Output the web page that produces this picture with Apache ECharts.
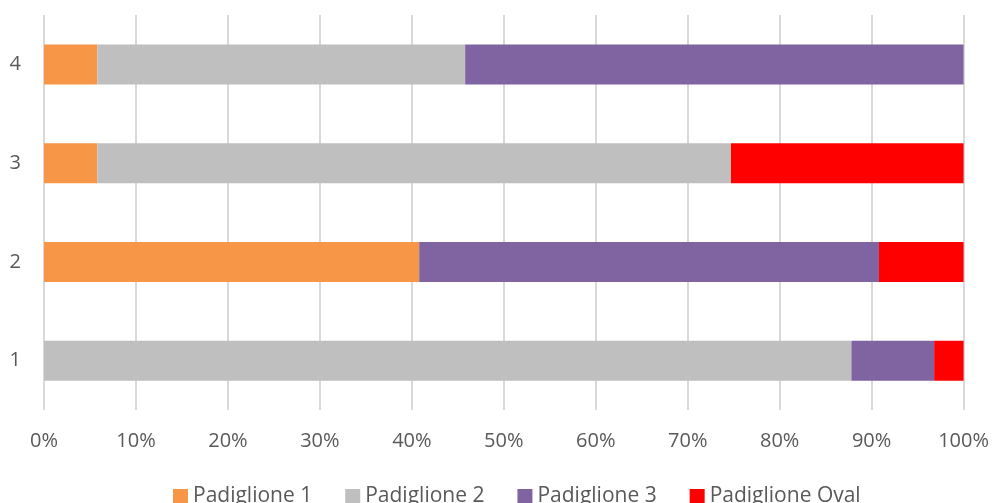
<!DOCTYPE html>
<html>
<head>
<meta charset="utf-8">
<script src="https://cdn.jsdelivr.net/npm/echarts@6/dist/echarts.min.js"></script>
<style>
  html, body { margin: 0; padding: 0; background: #fff; }
  #chart { width: 992px; height: 503px; }
</style>
</head>
<body>
<div id="chart"></div>
<script>
var categories = ['1', '2', '3', '4'];
var seriesNames = ['Padiglione 1', 'Padiglione 2', 'Padiglione 3', 'Padiglione Oval'];
var padiglione1 = [0, 40.8, 5.8, 5.8];
var padiglione2 = [87.8, 0, 68.9, 40.0];
var padiglione3 = [9.0, 50.0, 0, 54.2];
var padiglioneOval = [3.2, 9.2, 25.3, 0];
var colors = ['#F79646', '#BFBFBF', '#8064A2', '#FF0000'];
var xTicks = [0, 10, 20, 30, 40, 50, 60, 70, 80, 90, 100];

var font = 'Open Sans, Liberation Sans, sans-serif';
var data = [padiglione1, padiglione2, padiglione3, padiglioneOval];

var myChart = echarts.init(document.getElementById('chart'));
myChart.setOption({
  animation: false,
  color: colors,
  grid: {
    left: 44,
    right: 27,
    top: 15,
    bottom: 93,
    containLabel: false
  },
  legend: {
    top: 481,
    left: 168,
    itemWidth: 15,
    itemHeight: 15,
    itemGap: 33,
    icon: 'rect',
    textStyle: { color: '#595959', fontSize: 21, fontFamily: font, padding: [0, 0, 0, 0] }
  },
  xAxis: {
    type: 'value',
    min: xTicks[0],
    max: xTicks[xTicks.length - 1],
    interval: 10,
    axisLine: { show: false },
    axisTick: { show: false },
    splitLine: { lineStyle: { color: '#D9D9D9', width: 2 } },
    axisLabel: {
      color: '#595959',
      fontSize: 20,
      fontFamily: font,
      margin: 21,
      formatter: '{value}%'
    }
  },
  yAxis: {
    type: 'category',
    data: categories,
    axisLine: { show: false },
    axisTick: { show: false },
    axisLabel: { color: '#595959', fontSize: 20, fontFamily: font, margin: 23 }
  },
  series: seriesNames.map(function (name, i) {
    return {
      name: name,
      type: 'bar',
      stack: 'total',
      barWidth: 40,
      data: data[i]
    };
  })
});
</script>
</body>
</html>
